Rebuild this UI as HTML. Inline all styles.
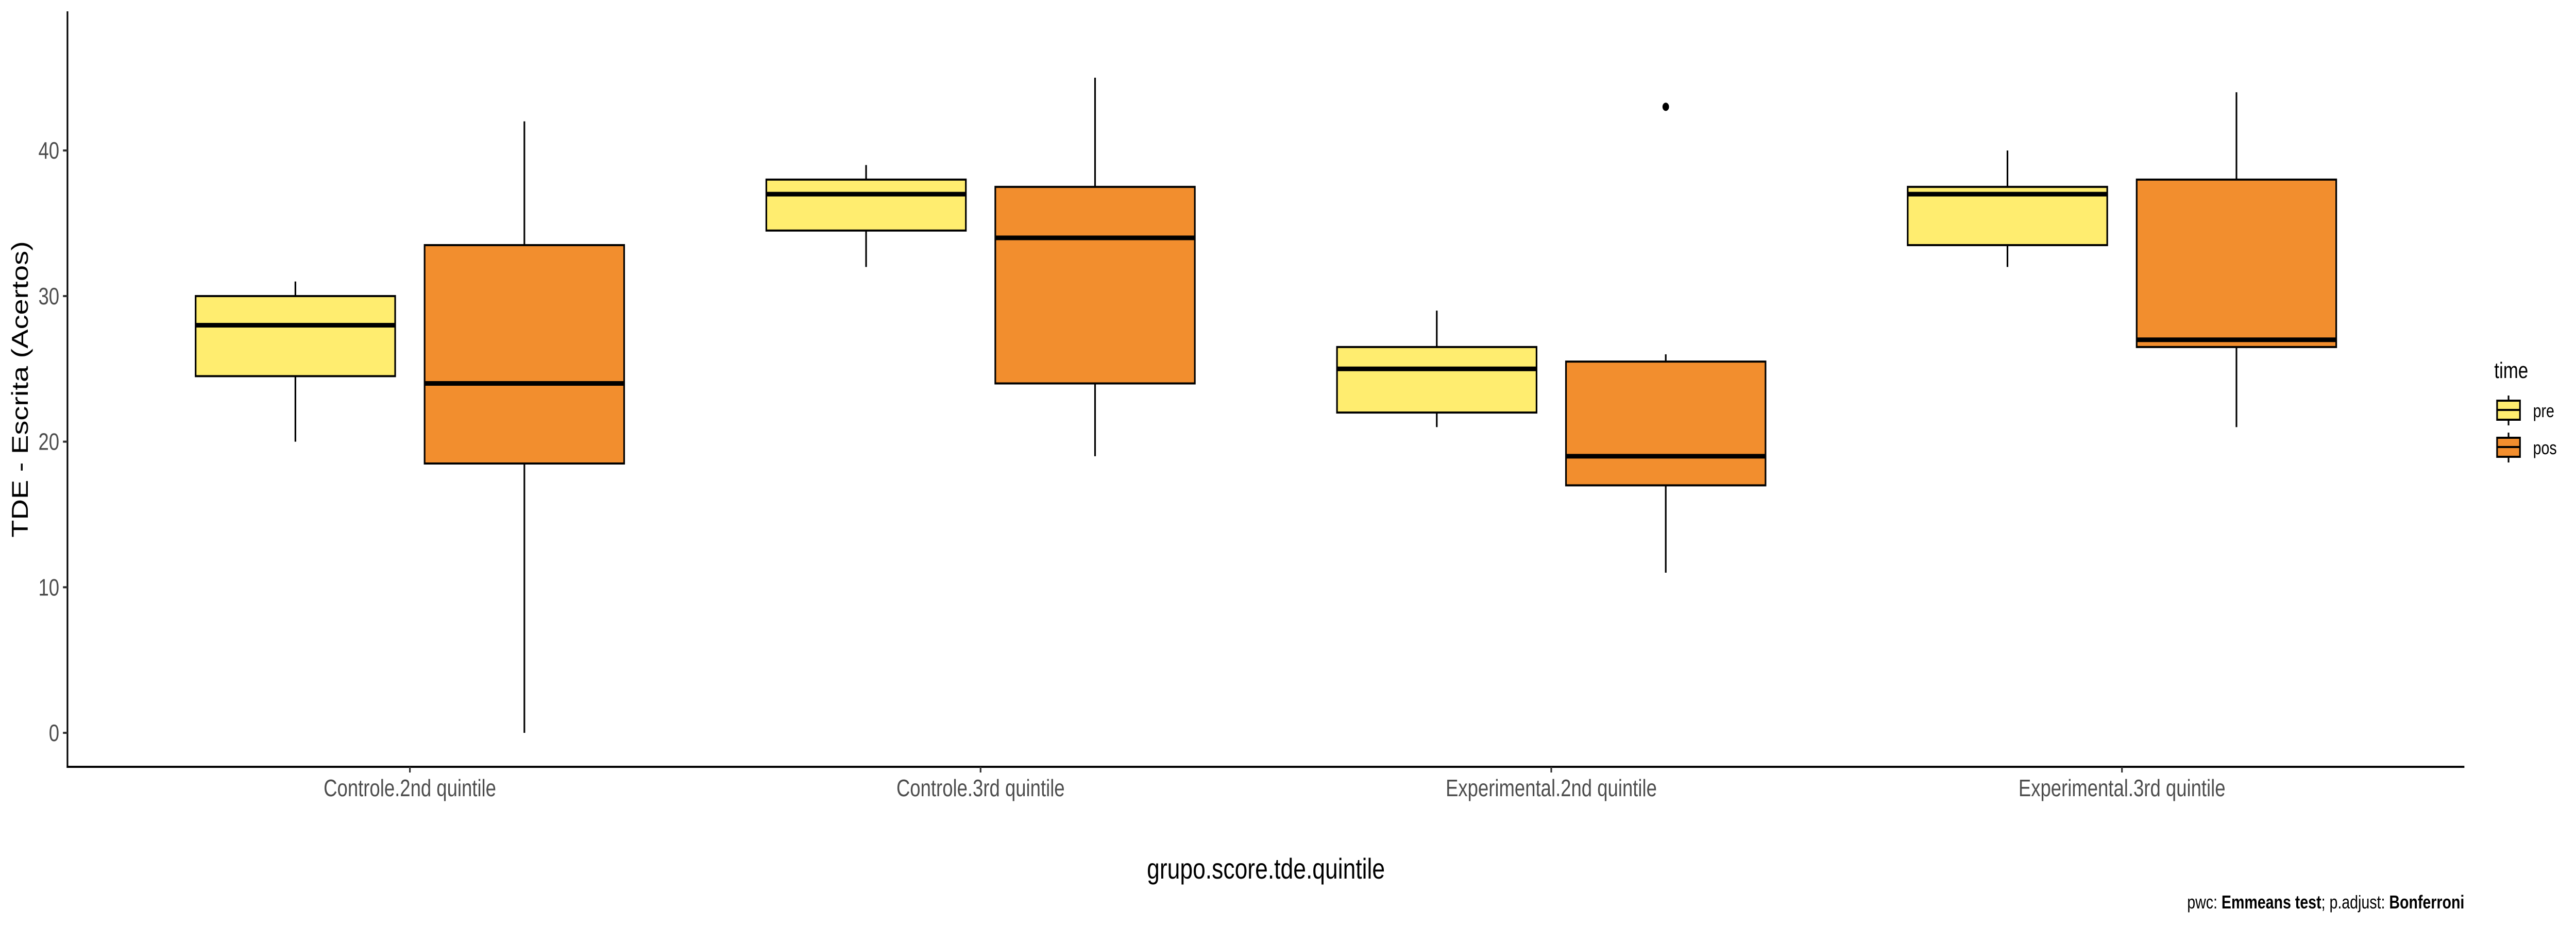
<!DOCTYPE html>
<html><head><meta charset="utf-8"><style>
html,body{margin:0;padding:0;background:#fff;width:100%;height:100%;overflow:hidden;}
svg{display:block;font-family:"Liberation Sans",Arial,sans-serif;width:100vw;height:100vh;}
</style></head><body>
<svg id="chart" viewBox="0 0 6300 1800" preserveAspectRatio="none" xmlns="http://www.w3.org/2000/svg">
<g id="plot"></g>
</svg>
<script>
const categories = ["Controle.2nd quintile","Controle.3rd quintile","Experimental.2nd quintile","Experimental.3rd quintile"];
const seriesNames = ["pre","pos"];
const preLow = [20,32,21,32];
const preQ1 = [24.5,34.5,22,33.5];
const preMed = [28,37,25,37];
const preQ3 = [30,38,26.5,37.5];
const preHigh = [31,39,29,40];
const posLow = [0,19,11,21];
const posQ1 = [18.5,24,17,26.5];
const posMed = [24,34,19,27];
const posQ3 = [33.5,37.5,25.5,38];
const posHigh = [42,45,26,44];
const outlierCat = [2];
const outlierSeries = [1];
const outlierVal = [43];
const yTicks = [0,10,20,30,40];

const NS="http://www.w3.org/2000/svg";
const svg=document.getElementById('chart');
const g=document.getElementById('plot');
const L=165,R=6027,T=22,B=1489;
const y0px=1423, perUnit=28.27;
function y(v){return y0px-perUnit*v;}
const step=(R-L)/(categories.length-1+1.2);
function x(i){return L+0.6*step+i*step;}
const off=280, halfW=244;
const fills=["#FFED6F","#F28E2E"];
function el(tag,attrs,parent){const e=document.createElementNS(NS,tag);for(const k in attrs)e.setAttribute(k,attrs[k]);(parent||g).appendChild(e);return e;}

const stats=[[preLow,preQ1,preMed,preQ3,preHigh],[posLow,posQ1,posMed,posQ3,posHigh]];
categories.forEach((c,i)=>{
  for(let s=0;s<2;s++){
    const cx=x(i)+(s===0?-off:off);
    const [lo,q1,md,q3,hi]=stats[s].map(a=>a[i]);
    const grp=el('g',{});
    
    
    const w1=el('line',{x1:cx,x2:cx,y1:y(hi),y2:y(q3),stroke:'#000','stroke-width':4},grp);
    
    
    const w2=el('line',{x1:cx,x2:cx,y1:y(q1),y2:y(lo),stroke:'#000','stroke-width':4},grp);
    
    
    const r=el('rect',{x:cx-halfW,y:y(q3),width:2*halfW,height:y(q1)-y(q3),fill:fills[s],stroke:'#000','stroke-width':4},grp);
    
    
    const m=el('line',{x1:cx-halfW,x2:cx+halfW,y1:y(md),y2:y(md),stroke:'#000','stroke-width':9},grp);
    
    
  }
});
outlierVal.forEach((v,k)=>{
  const cx=x(outlierCat[k])+(outlierSeries[k]===0?-off:off);
  const c=el('circle',{cx:cx,cy:y(v),r:8,fill:'#000'});
  
  
});
const ax=el('line',{x1:L,x2:L,y1:T,y2:B+2,stroke:'#000','stroke-width':4});


const bx=el('line',{x1:L-2,x2:R,y1:B,y2:B,stroke:'#000','stroke-width':4});


yTicks.forEach(t=>{
  const tk=el('line',{x1:L-11,x2:L,y1:y(t),y2:y(t),stroke:'#333','stroke-width':4});
  
  
  const tx=el('text',{x:L-20,y:y(t)+16,'text-anchor':'end','font-size':46,fill:'#4d4d4d'});
  tx.textContent=t;
  
  
});
categories.forEach((c,i)=>{
  const tk=el('line',{x1:x(i),x2:x(i),y1:B,y2:B+11,stroke:'#333','stroke-width':4});
  
  
  const tx=el('text',{x:x(i),y:1546,'text-anchor':'middle','font-size':46,fill:'#4d4d4d'});
  tx.textContent=c;
  
  
});
function t(txt,attrs,name){const e=document.createElementNS(NS,'text');for(const k in attrs)e.setAttribute(k,attrs[k]);e.innerHTML=txt;svg.appendChild(e);return e;}
t('grupo.score.tde.quintile',{x:3096,y:1706,'text-anchor':'middle','font-size':56,fill:'#000'},'x-axis-title');
t('TDE - Escrita (Acertos)',{x:68,y:756,'text-anchor':'middle','font-size':56,fill:'#000',transform:'rotate(-90 68 756)'},'y-axis-title');
t('time',{x:6100,y:734,'font-size':44,fill:'#000'},'legend-title');
t('pre',{x:6195,y:810,'font-size':36,fill:'#000'},'legend-label-pre');
t('pos',{x:6195,y:882,'font-size':36,fill:'#000'},'legend-label-pos');
t('pwc: <tspan font-weight="bold">Emmeans test</tspan>; p.adjust: <tspan font-weight="bold">Bonferroni</tspan>',{x:6027,y:1764,'text-anchor':'end','font-size':36,fill:'#000'},'caption');
[[778,"#FFED6F","pre"],[850,"#F28E2E","pos"]].forEach(([yy,f,n])=>{
  const lg=document.createElementNS(NS,'g');
  
  
  lg.innerHTML=`<line x1="6135" x2="6135" y1="${yy-10}" y2="${yy+48}" stroke="#000" stroke-width="4"/><rect x="6107" y="${yy}" width="56" height="37" fill="${f}" stroke="#000" stroke-width="4"/><line x1="6107" x2="6163" y1="${yy+18}" y2="${yy+18}" stroke="#000" stroke-width="4"/>`;
  svg.appendChild(lg);
});
</script>
</body></html>
